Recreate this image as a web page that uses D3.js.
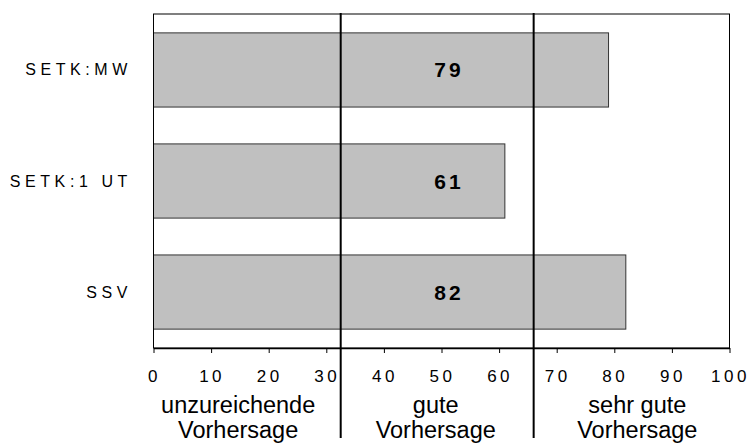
<!DOCTYPE html>
<html>
<head>
<meta charset="utf-8">
<script src="https://cdn.jsdelivr.net/npm/d3@7"></script>
<style>
  body { margin: 0; background: #fff; }
  svg { display: block; font-family: "Liberation Sans", Arial, sans-serif; }
</style>
</head>
<body>
<svg id="chart" width="749" height="443"></svg>
<script>
// data
var categories = ["SETK:MW", "SETK:1 UT", "SSV"]
var values = [79, 61, 82]
var xTicks = [0, 10, 20, 30, 40, 50, 60, 70, 80, 90, 100]
var thresholds = [32.5, 66]
var zoneLabels = [["unzureichende", "Vorhersage"], ["gute", "Vorhersage"], ["sehr gute", "Vorhersage"]]
var zoneCenters = [14.7, 49, 84]
var valueLabelPos = 51.3

var margin = { left: 153.5, right: 19.5, top: 14, bottom: 95 }
var width = 749, height = 443
var svg = d3.select("#chart")

var x = d3.scaleLinear().domain([0, 100]).range([margin.left, width - margin.right])
var y = d3.scaleBand().domain(categories).range([margin.top, height - margin.bottom]).paddingInner(0.332).paddingOuter(0.17)

// bars
svg.selectAll(".bar").data(categories).join("rect").attr("class", "bar")
    .attr("x", x(0)).attr("y", d => y(d))
    .attr("width", (d, i) => x(values[i]) - x(0)).attr("height", y.bandwidth())
    .attr("fill", "#c0c0c0").attr("stroke", "#333").attr("stroke-width", 1)

// frame
svg.append("rect").attr("x", x(0)).attr("y", margin.top)
    .attr("width", x(100) - x(0)).attr("height", height - margin.bottom - margin.top)
    .attr("fill", "none").attr("stroke", "#000").attr("stroke-width", 1)

// x axis
var xAxis = svg.append("g").attr("transform", "translate(0," + (height - margin.bottom) + ")")
    .call(d3.axisBottom(x).tickValues(xTicks).tickSizeOuter(0).tickSizeInner(5).tickPadding(17))
xAxis.select(".domain").attr("stroke", "#000").attr("stroke-width", 1.3)
xAxis.selectAll(".tick line").attr("stroke", "#000")
xAxis.selectAll(".tick text").attr("font-size", 17).attr("letter-spacing", 3.5).attr("dx", 0.5)
    .attr("fill", "#000").style("font-family", "Liberation Sans, Arial, sans-serif")

// y labels
svg.selectAll(".ylab").data(categories).join("text").attr("class", "ylab")
    .attr("x", 132).attr("y", d => y(d) + y.bandwidth() / 2)
    .attr("text-anchor", "end").attr("dominant-baseline", "central")
    .attr("font-size", 16).attr("letter-spacing", 4.6).text(d => d)

// value labels
svg.selectAll(".vlab").data(values).join("text").attr("class", "vlab")
    .attr("x", x(valueLabelPos)).attr("y", (d, i) => y(categories[i]) + y.bandwidth() / 2)
    .attr("text-anchor", "middle").attr("dominant-baseline", "central")
    .attr("font-size", 21).attr("font-weight", "bold").attr("letter-spacing", 3).text(d => d)

// threshold lines
svg.selectAll(".thr").data(thresholds).join("line").attr("class", "thr")
    .attr("x1", d => x(d)).attr("x2", d => x(d)).attr("y1", 13).attr("y2", 438)
    .attr("stroke", "#000").attr("stroke-width", 2)

// zone labels
var zl = svg.selectAll(".zone").data(zoneLabels).join("text").attr("class", "zone")
    .attr("text-anchor", "middle").attr("font-size", 23.5)
zl.selectAll("tspan").data((d, i) => d.map(t => [t, i])).join("tspan")
    .attr("x", d => x(zoneCenters[d[1]])).attr("y", (d, j) => 413 + j * 25).text(d => d[0])
</script>
</body>
</html>
